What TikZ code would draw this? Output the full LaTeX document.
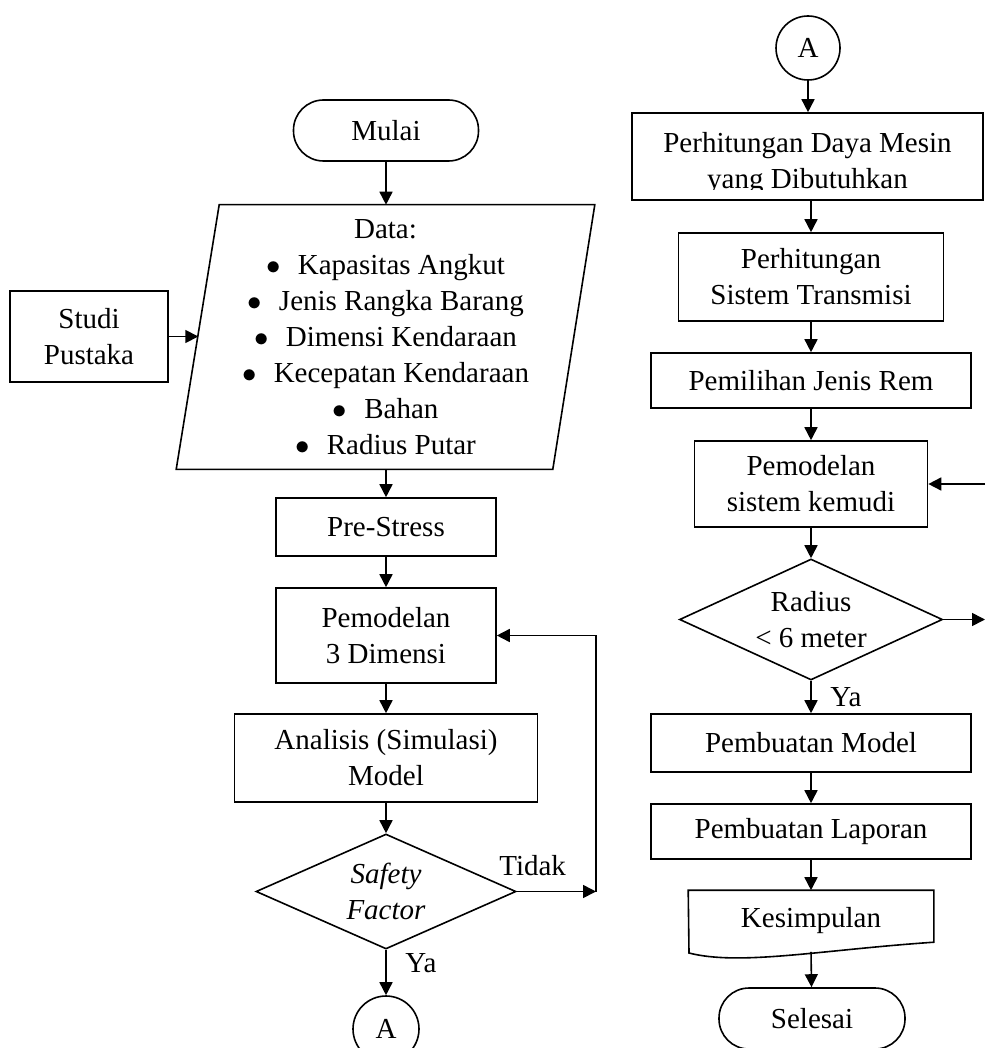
\documentclass[tikz,border=0pt]{standalone}
\usepackage{fontspec}
\setmainfont{Liberation Serif}
\usetikzlibrary{arrows.meta, shapes.geometric, calc}

\begin{document}
\begin{tikzpicture}
    [font=\fontsize{14.5}{18}\selectfont, x=.5pt, y=-.5pt,
     >={Triangle[length=6.5pt, width=6.5pt]},
     line width=.8pt,
     box/.style={draw, align=center, inner sep=0pt},
     terminal/.style={draw, rounded corners=15pt, minimum width=#1,
                      minimum height=30.5pt, inner sep=0pt},
     connector/.style={draw, circle, minimum size=32pt, inner sep=0pt},
     decision/.style={draw, diamond, aspect=2.2, align=center, inner sep=0pt},
    ]
    \useasboundingbox (0,0) rectangle (985,1048);

    % Left column
    \node[terminal=92.5pt] (mulai) at (386,130.5) {Mulai};
    \node[align=center, minimum width=208.5pt, minimum height=131.5pt,
          inner sep=0pt] (data) at (385.5,337)
        {Data:\\
         $\bullet$\hspace{.6em}Kapasitas Angkut\\
         $\bullet$\hspace{.6em}Jenis Rangka Barang\\
         $\bullet$\hspace{.6em}Dimensi Kendaraan\\
         $\bullet$\hspace{.6em}Kecepatan Kendaraan\\
         $\bullet$\hspace{.6em}Bahan\\
         $\bullet$\hspace{.6em}Radius Putar};
    % Parallelogram round the data
    \draw ($(data.north west)+(43,0)$) -- (data.north east)
        -- ($(data.south east)+(-42,0)$) -- (data.south west) -- cycle;
    \coordinate (datain) at (198.3,336.5);
    \node[box, minimum width=79pt, minimum height=45.5pt] (studi)
        at (89,336.5) {Studi\\Pustaka};
    \node[box, minimum width=110pt, minimum height=29pt] (pre)
        at (386,527) {Pre-Stress};
    \node[box, minimum width=110pt, minimum height=47.5pt] (pem)
        at (386,635.5) {Pemodelan\\3 Dimensi};
    \node[box, minimum width=151.5pt, minimum height=44pt] (analisis)
        at (386,758) {Analisis (Simulasi)\\Model};
    \node[decision, minimum width=130pt, minimum height=57.5pt] (sf)
        at (386,891.5) {\textit{Safety}\\\textit{Factor}};
    \node[connector, minimum size=33pt] (a1) at (386,1029) {A};
    \coordinate (tidak) at (596,891.5);

    \draw[->] (mulai) -- (mulai |- data.north);
    \draw[->] (studi) -- (datain);
    \draw[->] (pre |- data.south) -- (pre);
    \draw[->] (pre) -- (pem);
    \draw[->] (pem) -- (analisis);
    \draw[->] (analisis) -- (sf);
    \draw[->] (sf) -- (a1) node[pos=.3, right=6pt] {Ya};
    \draw[->] (sf.east) -- (tidak) node[pos=.2, above=4pt] {Tidak};
    \draw[->] (tidak) |- (pem.east);

    % Right column
    \node[connector] (a2) at (808,48) {A};
    \node[minimum width=175.5pt, minimum height=43.5pt, inner sep=0pt,
          draw] (daya) at (807.5,156.5) {};
    \begin{scope}
        \clip (daya.north west) rectangle ($(daya.east)+(0,33.5)$);
        \node[align=center] at (807.5,164) {Perhitungan Daya Mesin\\yang Dibutuhkan};
    \end{scope}
    \foreach \nm / \py / \w / \h / \txt in
             {trans/277/132.5/44/{Perhitungan\\Sistem Transmisi},
              rem/380.5/160/27.5/{Pemilihan Jenis Rem},
              kemudi/484/116.5/43/{Pemodelan\\sistem kemudi},
              model/743/160/29/{Pembuatan Model},
              laporan/831.5/160/27.5/{Pembuatan Laporan}} {
        \node[box, minimum width=\w pt, minimum height=\h pt] (\nm)
            at (811,\py) {\txt};
    }
    \node[decision, minimum width=131.5pt, minimum height=60.5pt] (radius)
        at (811,619.5) {Radius\\< 6 meter};
    \node[minimum width=122pt, minimum height=30pt, inner sep=0pt] (kesim)
        at (811,921) {Kesimpulan};
    % Document shape
    \draw (kesim.north west) -- (kesim.north east) -- ++(0,52)
        .. controls (820,950) and (740,966) .. (689,953) -- cycle;
    \node[terminal=93pt] (selesai) at (812,1018.5) {Selesai};
    \coordinate (kemudiin) at (985,484);
    \coordinate (radiusout) at (985,619.5);

    \draw[->] (a2) -- (a2 |- daya.north);
    \draw[->] (trans |- daya.south) -- (trans);
    \draw[->] (trans) -- (rem);
    \draw[->] (rem) -- (kemudi);
    \draw[->] (kemudiin) -- (kemudi);
    \draw[->] (kemudi) -- (radius);
    \draw[->] (radius.east) -- (radiusout);
    \draw[->] (radius) -- (model) node[midway, right=6pt] {Ya};
    \draw[->] (model) -- (laporan);
    \draw[->] (laporan) -- (kesim);
    \draw[->] (kesim.south) -- (selesai);
\end{tikzpicture}
\end{document}
